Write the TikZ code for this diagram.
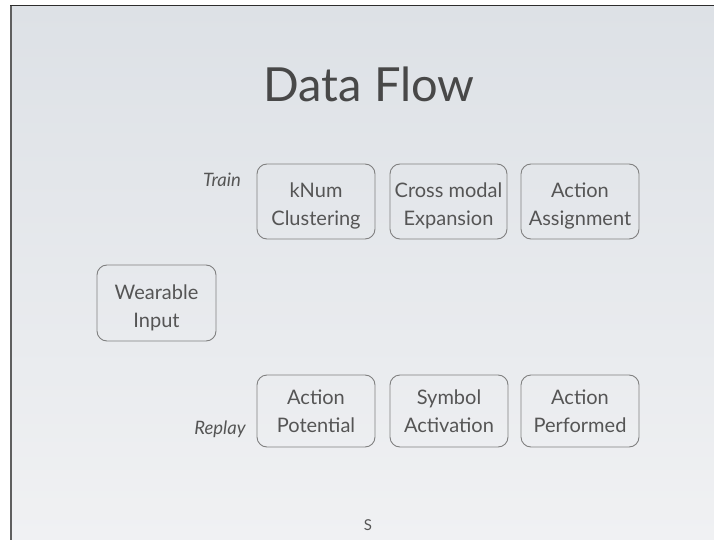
\documentclass[tikz,border=0pt]{standalone}
\usepackage{fontspec}
\setmainfont{Lato}
\definecolor{bgtop}{RGB}{221,225,230}
\definecolor{bgbot}{RGB}{240,241,243}
\definecolor{boxline}{RGB}{128,128,128}
\definecolor{txt}{RGB}{85,85,85}
\definecolor{titletxt}{RGB}{72,72,72}
\definecolor{edgeleft}{RGB}{95,95,95}
\definecolor{edgetop}{RGB}{45,45,45}
\begin{document}
\begin{tikzpicture}[x=1pt,y=-1pt,
  stage/.style={draw=boxline, line width=0.9pt, rounded corners=10pt,
    minimum width=118pt, inner sep=0pt},
  stagetext/.style={text=txt, align=center, inner sep=0pt,
    font=\fontsize{20}{28}\selectfont},
  phase/.style={text=txt, font=\fontsize{18.5}{20}\selectfont\itshape, inner sep=0pt}
]
\useasboundingbox (0,0) rectangle (714,540);
\fill[white] (0,0) rectangle (714,540);
\shade[top color=bgtop, bottom color=bgbot] (11,6) rectangle (714,540);
\draw[edgeleft, line width=2pt] (11,6) -- (11,540);
\draw[edgetop, line width=1.5pt] (10,5.5) -- (714,5.5);

\node[text=titletxt, font=\fontsize{47}{50}\selectfont, inner sep=0pt, anchor=base] (title) at (369,102) {Data Flow};

\node[phase, anchor=base] (train) at (222,186) {Train};
\node[phase, anchor=base] (replay) at (220,434) {Replay};

\node[stage, minimum height=75pt] (knum) at (316,201.5) {};
\node[stagetext] (knumt) at ([yshift=-4pt]knum.center) {kNum\\Clustering};
\node[stage, minimum width=117pt, minimum height=75pt] (cross) at (448.5,201.5) {};
\node[stagetext] (crosst) at ([yshift=-4pt]cross.center) {Cross modal\\Expansion};
\node[stage, minimum height=75pt] (assign) at (580,201.5) {};
\node[stagetext] (assignt) at ([yshift=-4pt]assign.center) {Action\\Assignment};

\node[stage, minimum width=119pt, minimum height=76pt] (wear) at (156.5,303) {};
\node[stagetext] (weart) at ([yshift=-4.5pt]wear.center) {Wearable\\Input};

\node[stage, minimum height=72pt] (potential) at (316,411) {};
\node[stagetext] (potentialt) at (potential.center) {Action\\Potential};
\node[stage, minimum height=72pt] (symbol) at (449,411) {};
\node[stagetext] (symbolt) at (symbol.center) {Symbol\\Activation};
\node[stage, minimum height=72pt] (performed) at (580,411) {};
\node[stagetext] (performedt) at (performed.center) {Action\\Performed};

\node[text=txt, font=\fontsize{15}{18}\selectfont, inner sep=0pt, anchor=base] (page) at (368,530) {S};
\end{tikzpicture}
\end{document}
